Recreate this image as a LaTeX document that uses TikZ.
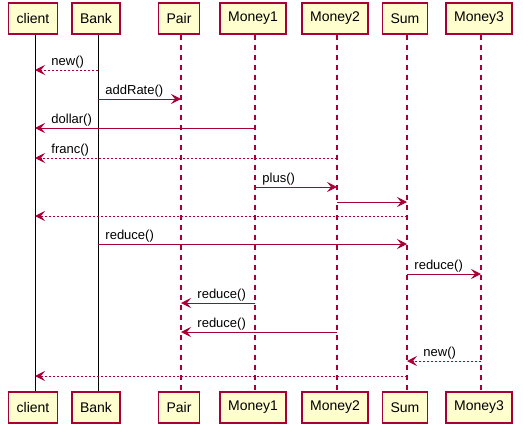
\documentclass[tikz,border=0pt]{standalone}
\usepackage{fontspec}
\setmainfont{Liberation Sans}
\usetikzlibrary{arrows.meta}
\definecolor{umlred}{HTML}{A80036}
\definecolor{umlfill}{HTML}{FEFECE}

\begin{document}
\begin{tikzpicture}[x=1pt,y=-1pt,
    actor/.style={draw=umlred,fill=umlfill,line width=1.5pt,minimum height=31pt,
                  inner xsep=8pt,xshift=-2pt,font=\fontsize{14}{16}\selectfont},
    life/.style={umlred,line width=1.3pt,dash pattern=on 5pt off 5pt},
    solidlife/.style={black,line width=0.9pt},
    msg/.style={umlred,line width=0.9pt,-{Stealth[length=10pt,width=10pt,inset=4pt]}},
    ret/.style={msg,dash pattern=on 2pt off 2pt},
    lbl/.style={black,font=\fontsize{13}{15}\selectfont,anchor=base west,
                inner sep=0pt,yshift=5pt}]

  \useasboundingbox (0,0) rectangle (523,434);

  \foreach \name/\x in {client/35,Bank/98,Pair/181,Money1/255,Money2/337,Sum/407,Money3/481} {
    \coordinate (\name-x) at (\x,0);
    \node[actor] (\name) at (\x,18.5) {\name};
    \node[actor] (\name-end) at (\x,407.5) {\name};
  }
  \foreach \name in {client,Bank}
    \draw[solidlife] (\name-x |- \name.south) -- (\name-x |- \name-end.north);
  \foreach \name in {Pair,Money1,Money2,Sum,Money3}
    \draw[life] (\name-x |- \name.south) -- (\name-x |- \name-end.north);

  \draw[ret] (Bank-x |- 0,70)    -- (client-x |- 0,70)  node[lbl,pos=1,xshift=16pt] (l1) {new()};
  \draw[msg] (Bank-x |- 0,99)    -- (Pair-x |- 0,99)    node[lbl,pos=0,xshift=7pt]  (l2) {addRate()};
  \draw[msg] (Money1-x |- 0,128) -- (client-x |- 0,128) node[lbl,pos=1,xshift=16pt] (l3) {dollar()};
  \draw[ret] (Money2-x |- 0,158) -- (client-x |- 0,158) node[lbl,pos=1,xshift=16pt] (l4) {franc()};
  \draw[msg] (Money1-x |- 0,187) -- (Money2-x |- 0,187) node[lbl,pos=0,xshift=7pt]  (l5) {plus()};
  \draw[msg] (Money2-x |- 0,202) -- (Sum-x |- 0,202);
  \draw[ret] (Sum-x |- 0,216)    -- (client-x |- 0,216);
  \draw[msg] (Bank-x |- 0,244)   -- (Sum-x |- 0,244)    node[lbl,pos=0,xshift=7pt]  (l6) {reduce()};
  \draw[msg] (Sum-x |- 0,274)    -- (Money3-x |- 0,274) node[lbl,pos=0,xshift=7pt]  (l7) {reduce()};
  \draw[msg] (Money1-x |- 0,303) -- (Pair-x |- 0,303)   node[lbl,pos=1,xshift=16pt] (l8) {reduce()};
  \draw[msg] (Money2-x |- 0,332) -- (Pair-x |- 0,332)   node[lbl,pos=1,xshift=16pt] (l9) {reduce()};
  \draw[ret] (Money3-x |- 0,361) -- (Sum-x |- 0,361)    node[lbl,pos=1,xshift=16pt] (l10) {new()};
  \draw[ret] (Sum-x |- 0,376)    -- (client-x |- 0,376);
\end{tikzpicture}
\end{document}
